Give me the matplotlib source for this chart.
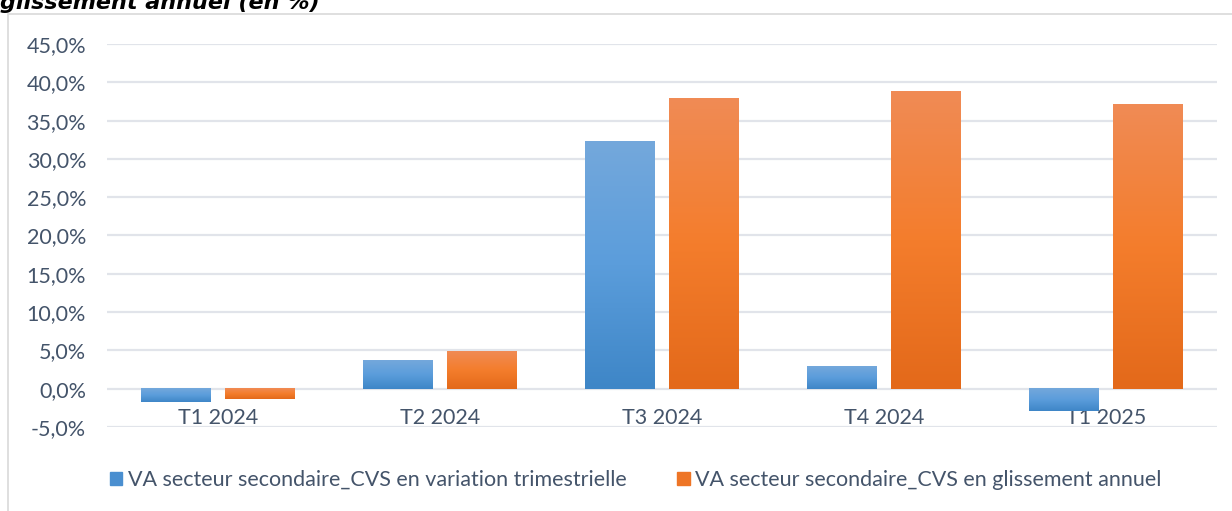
import numpy as np
import matplotlib.pyplot as plt
from matplotlib.colors import LinearSegmentedColormap
from matplotlib.patches import Rectangle

categories = ["T1 2024", "T2 2024", "T3 2024", "T4 2024", "T1 2025"]
variation_trim = [-1.7, 3.7, 32.3, 3.0, -2.9]
glissement_annuel = [-1.4, 4.9, 37.9, 38.8, 37.1]
series_names = ["VA secteur secondaire_CVS en variation trimestrielle",
                "VA secteur secondaire_CVS en glissement annuel"]
yticks = [-5, 0, 5, 10, 15, 20, 25, 30, 35, 40, 45]

text_col = "#44546a"
grid_col = "#e1e4ea"
blue_cmap = LinearSegmentedColormap.from_list("b", ["#3e86c7", "#5b9ddb", "#74a8dc"])
orange_cmap = LinearSegmentedColormap.from_list("o", ["#e3691a", "#f47d2c", "#f08b55"])

plt.rcParams['font.family'] = ['Lato', 'DejaVu Sans']

fig = plt.figure(figsize=(12.32, 5.11), dpi=100)
ax = fig.add_axes([107 / 1232, 1 - 427 / 511, (1217 - 107) / 1232, (427 - 44) / 511])

# outer chart frame
fig.patches.append(Rectangle((8 / 1232, -0.01), 1.1, 1 - 14 / 511 + 0.01, transform=fig.transFigure,
                             fill=False, edgecolor="#d9d9d9", linewidth=1.2))

# cut-off title at the top
fig.text(0.0, 1 - 9 / 511, "glissement annuel (en %)", fontsize=16, fontweight="bold",
         fontstyle="italic", family="DejaVu Sans", color="black", va="baseline")

x = np.arange(len(categories))
width = 0.315
offset = 0.19
grad = np.linspace(0, 1, 256).reshape(-1, 1)

for vals, cmap, dx in [(variation_trim, blue_cmap, -offset), (glissement_annuel, orange_cmap, offset)]:
    bars = ax.bar(x + dx, vals, width, color="none", edgecolor="none", zorder=2)
    for b in bars:
        x0, y0 = b.get_x(), b.get_y()
        w, h = b.get_width(), b.get_height()
        lo, hi = min(y0, y0 + h), max(y0, y0 + h)
        ax.imshow(grad, cmap=cmap, origin="lower", aspect="auto",
                  extent=(x0, x0 + w, lo, hi), zorder=2)

ax.set_xlim(-0.5, len(categories) - 0.5)
ax.set_ylim(-5, 45)
ax.set_yticks(yticks)
ax.set_yticklabels([f"{v:.1f}%".replace(".", ",") for v in yticks])
ax.yaxis.grid(True, color=grid_col, linewidth=1.6, zorder=0)
ax.set_axisbelow(True)
for s in ax.spines.values():
    s.set_visible(False)
ax.spines['bottom'].set_position(('data', 0))
ax.set_xticks(x)
ax.set_xticklabels(categories)
ax.tick_params(axis="both", length=0, labelsize=15.5, colors=text_col)
ax.tick_params(axis="x", pad=14)
ax.tick_params(axis="y", pad=15)

handles = [Rectangle((0, 0), 1, 1, color="#4a8fd0"), Rectangle((0, 0), 1, 1, color="#ee7526")]
fig.legend(handles, series_names, loc="center", bbox_to_anchor=(0.516, 1 - 480 / 511), ncol=2,
           frameon=False, fontsize=15.5, labelcolor=text_col, handlelength=0.6, handleheight=0.6,
           handletextpad=0.25, columnspacing=2.35)

fig.savefig("out.png", dpi=100)
